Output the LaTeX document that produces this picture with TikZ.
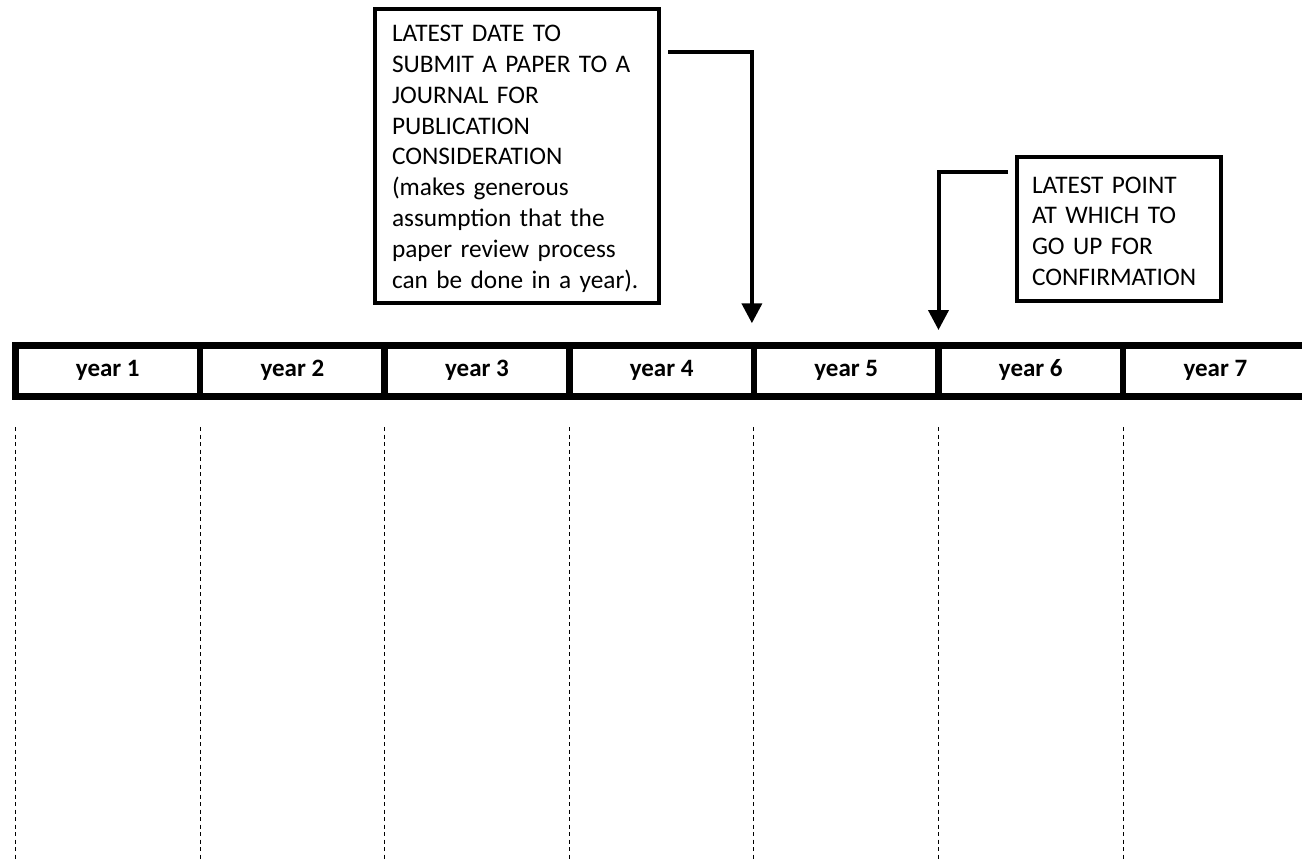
\documentclass[tikz,border=0pt]{standalone}
\usepackage{fontspec}
\setmainfont{Carlito}
\usetikzlibrary{arrows.meta,calc}
\begin{document}
\begin{tikzpicture}[x=1pt,y=-1pt,
  note/.style={draw, line width=4pt, rectangle, anchor=north west, align=left,
    font=\fontsize{25.3}{30.9}\selectfont, inner ysep=0pt, outer sep=0pt},
  cell/.style={draw, line width=6.5pt, minimum width=184.6pt, minimum height=51pt,
    inner sep=0pt, outer sep=0pt, text height=17pt, text depth=6pt,
    font=\bfseries\fontsize{25}{30}\selectfont},
  pointer/.style={line width=4pt, -{Triangle[width=20pt,length=20pt]}},
  guide/.style={line width=1pt, dash pattern=on 4pt off 3.5pt}]
\useasboundingbox (0,0) rectangle (1302,860);
\clip (0,0) rectangle (1302,860);
% timeline cells
\foreach \k in {1,...,7}
  \node[cell] (y\k) at ({15.5+184.6*(\k-0.5)},370.75) {year \k};
% dashed guides
\foreach \k in {1,...,7}
  \draw[guide] ($(y\k.south west)+(0,30.75)$) coordinate (g\k) -- ++(0,440);
% notes
\node[note, minimum width=284pt, minimum height=294pt, text width=250pt, inner xsep=17pt]
  (box1) at (375,9) {\rule{0pt}{22pt}LATEST DATE TO\\SUBMIT A PAPER TO A\\JOURNAL FOR\\PUBLICATION\\CONSIDERATION\\(makes generous\\assumption that the\\paper review process\\can be done in a year).};
\node[note, minimum width=204pt, minimum height=144pt, text width=174pt, inner xsep=15pt]
  (box2) at (1017,157) {\rule{0pt}{21pt}LATEST POINT\\AT WHICH TO\\GO UP FOR\\CONFIRMATION};
% pointers
\coordinate (a1s) at ($(box1.north east)+(9,42.5)$);
\coordinate (a1t) at ($(y4.north east)+(-2,-22)$);
\draw[pointer] (a1s) -| (a1t);
\coordinate (a2s) at ($(box2.north west)+(-9,14.5)$);
\coordinate (a2t) at ($(y6.north west)+(0,-15.25)$);
\draw[pointer] (a2s) -| (a2t);
\end{tikzpicture}
\end{document}
